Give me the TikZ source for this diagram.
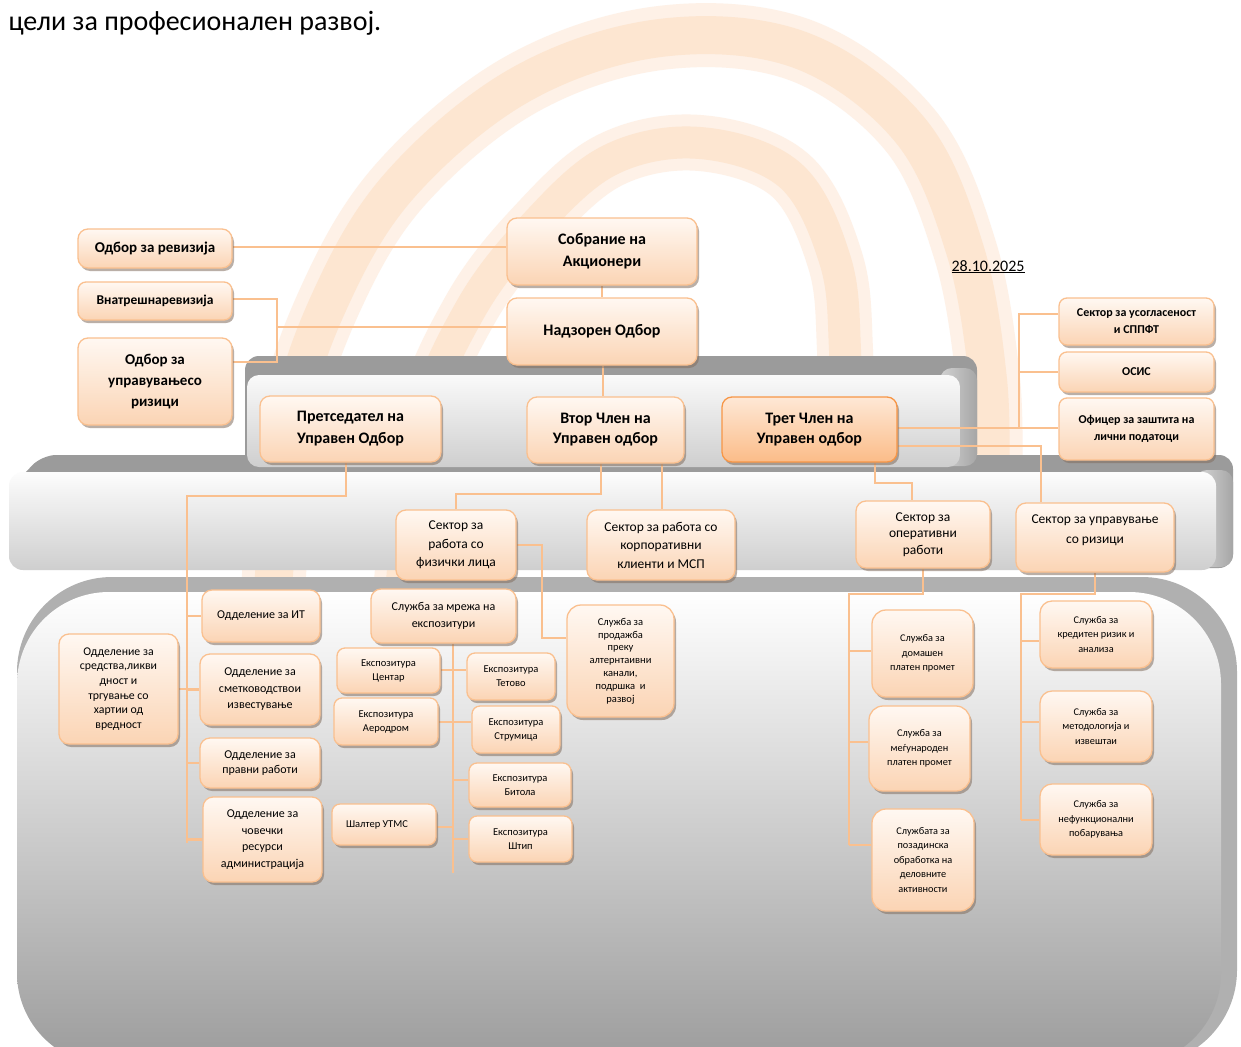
\documentclass[tikz,border=0pt]{standalone}
\usepackage{fontspec}
\setmainfont{Carlito}
\usetikzlibrary{shadows}
\pgfdeclarelayer{bgl}
\pgfdeclarelayer{conl}
\pgfsetlayers{bgl,conl,main}
\definecolor{peach}{RGB}{251,212,180}
\definecolor{peachtop}{RGB}{255,248,242}
\definecolor{bord}{RGB}{250,192,143}
\definecolor{conc}{RGB}{250,192,143}
\definecolor{tretT}{RGB}{254,232,214}
\definecolor{tretB}{RGB}{251,188,136}
\definecolor{tretBord}{RGB}{247,150,70}
\definecolor{shadowc}{RGB}{130,110,95}
\definecolor{wmA}{RGB}{254,241,231}
\definecolor{wmB}{RGB}{253,230,209}
\definecolor{dkg}{RGB}{155,155,155}
\tikzset{
  box/.style={draw=bord, line width=1.3pt, rounded corners=8pt,
    top color=peachtop, bottom color=peach,
    drop shadow={shadow xshift=2pt, shadow yshift=-3pt, fill=shadowc, opacity=.55},
    align=center, inner sep=1pt, text=black},
  fs/.style 2 args={font=\fontsize{#1}{#2}\selectfont},
  fsb/.style 2 args={font=\bfseries\fontsize{#1}{#2}\selectfont},
  topb/.style={rounded corners=10pt, fsb={16}{22}},
  leftb/.style={rounded corners=10pt, fsb={15}{21}},
  rb/.style={fsb={12}{17}},
  mb/.style={rounded corners=10pt, fs={13.5}{18.5}},
  sb/.style={rounded corners=10pt, fs={12}{16.5}},
  eb/.style={fs={10.5}{14}},
  tretb/.style={topb, draw=tretBord, top color=tretT, bottom color=tretB},
  con/.style={draw=conc, line width=2.7pt},
  wmo/.style={line width=#1, line cap=round, line join=round},
}
\newcommand\bx[7][]{\node[box,#1,minimum width={(#5-#3)*1pt},minimum height={(#6-#4)*1pt}] (#2) at ({(#3+#5)/2},{(#4+#6)/2}) {#7};}
\begin{document}
\begin{tikzpicture}[x=1pt,y=-1pt]
\useasboundingbox (0,0) rectangle (1241,1046);
\begin{pgfonlayer}{bgl}
\fill[white] (0,0) rectangle (1241,1046);
% watermark
\draw[wmo=64pt, wmA] plot[smooth, tension=0.6] coordinates {(272,610) (288,430) (330,300) (400,185) (520,85) (660,38) (800,50) (910,130) (965,250) (988,380) (990,480)};
\draw[wmo=38pt, wmB] plot[smooth, tension=0.6] coordinates {(272,610) (288,430) (330,300) (400,185) (520,85) (660,38) (800,50) (910,130) (965,250) (988,380) (990,480)};
\draw[wmo=56pt, wmA] plot[smooth, tension=0.6] coordinates {(400,610) (420,430) (470,310) (535,225) (610,160) (700,143) (790,175) (835,260) (845,350) (845,470)};
\draw[wmo=32pt, wmB] plot[smooth, tension=0.6] coordinates {(400,610) (420,430) (470,310) (535,225) (610,160) (700,143) (790,175) (835,260) (845,350) (845,470)};
% bottom panel
\fill[gray!62, rounded corners=95pt] (17,577) rectangle (1237,1065);
\shade[top color=white, bottom color=gray!78, rounded corners=92pt] (17,592) rectangle (1221,1065);
% middle panel
\fill[dkg, rounded corners=14pt] (9,490) -- (42,455) -- (1233,455) -- (1233,568) -- (9,568) -- cycle;
\shade[left color=gray!30, right color=gray!70, rounded corners=12pt] (1195,470) rectangle (1233,567);
\shade[top color=gray!2, bottom color=gray!38, rounded corners=14pt] (9,472) rectangle (1216,570);
% upper panel
\fill[dkg, rounded corners=14pt] (245,356) rectangle (977,468);
\shade[left color=gray!35, right color=gray!70, rounded corners=12pt] (940,368) rectangle (977,466);
\shade[top color=gray!4, bottom color=gray!38, rounded corners=12pt] (247,375) rectangle (960,467);
\end{pgfonlayer}
% header texts
\node[anchor=base west, fs={28}{32}] (hdr) at (5,31) {цели за професионален развој.};
\node[anchor=base west, fs={16}{18}] (date) at (948,271) {\underline{28.10.2025}};
% ---- nodes
\bx[topb]{sobr}{507}{218}{697}{285}{Собрание на\\Акционери}
\bx[topb]{nadz}{507}{298}{697}{365}{Надзорен Одбор}
\bx[leftb]{rev}{78}{229}{232}{268}{Одбор за ревизија}
\bx[fsb={13.5}{14}]{vnat}{78}{282}{232}{320}{Внатрешнаревизија}
\bx[leftb]{rizo}{78}{338}{232}{425}{Одбор за\\управувањесо\\ризици}
\bx[topb]{pret}{260}{396}{441}{462}{Претседател на\\Управен Одбор}
\bx[topb,fsb={16}{20}]{vtor}{527}{397}{684}{463}{Втор Член на\\Управен одбор}
\bx[tretb,fsb={16}{20}]{tret}{722}{397}{897}{462}{Трет Член на\\Управен одбор}
\bx[rb]{usog}{1059}{298}{1214}{345}{Сектор за усогласеност\\и СППФТ}
\bx[rb]{osis}{1059}{352}{1214}{392}{ОСИС}
\bx[rb]{ofic}{1059}{398}{1214}{460}{Офицер за заштита на\\лични податоци}
\bx[mb]{fiz}{396}{510}{516}{580}{Сектор за\\работа со\\физички лица}
\bx[mb]{korp}{587}{510}{735}{580}{Сектор за работа со\\корпоративни\\клиенти и МСП}
\bx[mb,fs={13.5}{16.5}]{oper}{856}{501}{990}{568}{Сектор за\\оперативни\\работи}
\bx[mb,fs={13.5}{20},text depth=17pt]{upr}{1016}{503}{1174}{572}{Сектор за управување\\со ризици}
\bx[sb,fs={11.8}{14.6}]{sred}{59}{634}{178}{744}{Одделение за\\средства,ликви\\дност и\\тргување со\\хартии од\\вредност}
\bx[sb]{it}{202}{590}{320}{642}{Одделение за ИТ}
\bx[sb]{smet}{200}{654}{320}{725}{Одделение за\\сметководствои\\известување}
\bx[sb,fs={12}{15}]{prav}{200}{738}{320}{788}{Одделение за\\правни работи}
\bx[sb]{covek}{203}{797}{322}{882}{Одделение за\\човечки\\ресурси\\администрација}
\bx[sb,fs={12}{17}]{mreza}{371}{589}{516}{643}{Служба за мрежа на\\експозитури}
\bx[eb]{centar}{337}{648}{440}{693}{Експозитура\\Центар}
\bx[eb]{tetovo}{467}{653}{555}{700}{Експозитура\\Тетово}
\bx[eb]{aero}{334}{698}{438}{745}{Експозитура\\Аеродром}
\bx[eb]{strum}{472}{706}{560}{753}{Експозитура\\Струмица}
\bx[eb]{bitola}{469}{763}{571}{807}{Експозитура\\Битола}
\bx[eb]{shalter}{332}{804}{436}{845}{Шалтер УТМС\hspace*{14pt}}
\bx[eb]{stip}{469}{816}{572}{862}{Експозитура\\Штип}
\bx[eb,rounded corners=14pt,fs={10.5}{12.8}]{prod}{567}{605}{674}{717}{Служба за\\продажба\\преку\\алтернтаивни\\канали,\\подршка~ и\\развој}
\bx[eb,rounded corners=14pt,fs={10.3}{14.5}]{doma}{872}{610}{973}{697}{Служба за\\домашен\\платен промет}
\bx[eb,rounded corners=14pt,fs={10.3}{14.5}]{megu}{869}{706}{970}{791}{Служба за\\меѓународен\\платен промет}
\bx[eb,rounded corners=14pt,fs={10.3}{14.5}]{poza}{872}{809}{974}{911}{Службата за\\позадинска\\обработка на\\деловните\\активности}
\bx[eb,rounded corners=12pt,fs={10.3}{14.5}]{kred}{1040}{601}{1152}{668}{Служба за\\кредитен ризик и\\анализа}
\bx[eb,rounded corners=12pt,fs={10.3}{14.5}]{metod}{1040}{691}{1152}{762}{Служба за\\методологија и\\извештаи}
\bx[eb,rounded corners=12pt,fs={10.3}{14.5}]{nefun}{1040}{784}{1152}{855}{Служба за\\нефункционални\\побарувања}
% ---- connectors
\begin{pgfonlayer}{conl}
\draw[con] (rev.east |- 0,247) -- (sobr.west |- 0,247);
\draw[con] (sobr.south) -- (nadz.north);
\coordinate (ja) at (277,299);
\coordinate (jb) at (277,362);
\coordinate (jc) at (277,327);
\draw[con] (vnat.east |- ja) -- (ja) -- (jb) -- (jb -| rizo.east);
\draw[con] (jc) -- (jc -| nadz.west);
\draw[con] (603,0 |- nadz.south) -- (603,0 |- vtor.north);
\draw[con] (tret.east |- 0,428) -- (ofic.west |- 0,428);
\coordinate (ra) at (1019,314);
\draw[con] (ra -| usog.west) -- (ra) -- (ra |- 0,428);
\draw[con] (ra |- osis.west) -- (osis.west);
\draw[con] (tret.east |- 0,446) -| (1041,0 |- upr.north);
\draw[con] (875,0 |- tret.south) |- (912,483) -- (912,0 |- oper.north);
\coordinate (pa) at (187,496);
\coordinate (pb) at (187,843);
\draw[con] (346,0 |- pret.south) |- (pa) -- (pb);
\draw[con] (pa |- it.west) -- (it.west);
\draw[con] (pa |- smet.west) -- (smet.west);
\draw[con] (pa |- prav.west) -- (prav.west);
\draw[con] (pa |- covek.west) -- (covek.west);
\draw[con] (sred.east) -- (pa |- sred.east);
\draw[con] (601,0 |- vtor.south) |- (fiz.north |- 0,494) -- (fiz.north);
\draw[con] (662,0 |- vtor.south) -- (662,0 |- korp.north);
\draw[con] (fiz.east) -| (542,638) -- (prod.west |- 0,638);
\coordinate (ma) at (453,873);
\draw[con] (453,0 |- mreza.south) -- (ma);
\draw[con] (centar.east |- 0,670) -- (tetovo.west |- 0,670);
\draw[con] (aero.east |- 0,722) -- (strum.west |- 0,722);
\draw[con] (453,780) -- (bitola.west |- 0,780);
\draw[con] (shalter.east |- 0,827) -- (453,827);
\draw[con] (453,839) -- (stip.west |- 0,839);
\coordinate (oa) at (849,594);
\coordinate (ob) at (849,845);
\draw[con] (oper.south) |- (oa) -- (ob);
\draw[con] (oa |- 0,651) -- (doma.west |- 0,651);
\draw[con] (oa |- 0,742) -- (megu.west |- 0,742);
\draw[con] (ob) -- (poza.west |- ob);
\coordinate (ua) at (1021,594);
\coordinate (ub) at (1021,820);
\draw[con] (upr.south) |- (ua) -- (ub);
\draw[con] (ua |- 0,641) -- (kred.west |- 0,641);
\draw[con] (ua |- 0,722) -- (metod.west |- 0,722);
\draw[con] (ub) -- (nefun.west |- ub);
\end{pgfonlayer}
\end{tikzpicture}
\end{document}
